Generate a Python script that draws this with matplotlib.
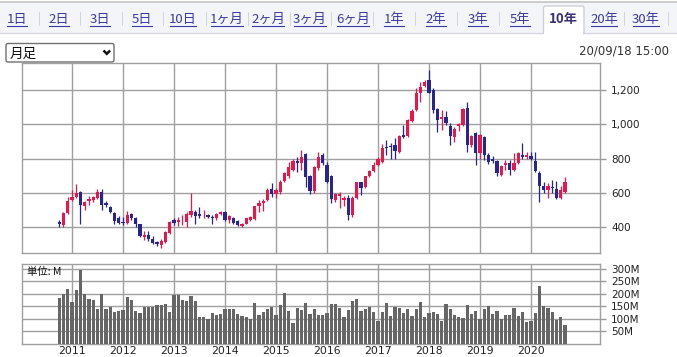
# -*- coding: utf-8 -*-
# monthly candle chart (10 years) with volume, yahoo-style page header

import numpy as np
import pandas as pd
import matplotlib
matplotlib.use('Agg')
import matplotlib.pyplot as plt
from matplotlib.patches import Rectangle, FancyBboxPatch

plt.rcParams['font.family'] = ['DejaVu Sans']
JP = ['Noto Sans CJK JP', 'DejaVu Sans']

# ---- data ----
months = pd.date_range('2010-10-01', periods=120, freq='MS')

opens = [430, 410, 480, 555, 575, 605, 525, 550, 555, 570,
         605, 540, 515, 480, 455, 430, 425, 475, 450, 415,
         340, 355, 330, 310, 295, 310, 365, 440, 430, 438,
         430, 470, 485, 475, 463, 470, 460, 455, 478, 490,
         440, 450, 435, 405, 420, 440, 445, 520, 540, 555,
         620, 590, 605, 670, 695, 730, 788, 775, 825, 700,
         610, 745, 820, 760, 695, 560, 582, 555, 570, 470,
         570, 660, 635, 695, 725, 760, 780, 870, 872, 880,
         840, 935, 930, 1020, 1085, 1185, 1225, 1260, 1200, 1090,
         1030, 1045, 990, 925, 990, 995, 1095, 880, 950, 835,
         925, 820, 795, 785, 705, 765, 775, 730, 775, 822,
         810, 815, 785, 715, 640, 615, 635, 620, 570, 605]
highs = [440, 485, 575, 615, 650, 610, 550, 580, 580, 620,
         620, 550, 525, 490, 465, 460, 495, 480, 460, 420,
         375, 375, 345, 320, 330, 375, 435, 455, 460, 470,
         490, 600, 500, 515, 500, 475, 470, 480, 495, 495,
         470, 460, 440, 425, 455, 465, 525, 555, 565, 625,
         655, 625, 675, 720, 780, 800, 810, 850, 830, 705,
         755, 840, 835, 780, 705, 600, 605, 580, 585, 580,
         665, 665, 700, 730, 780, 810, 885, 910, 890, 920,
         940, 995, 1030, 1090, 1210, 1245, 1260, 1320, 1210, 1095,
         1085, 1080, 1005, 985, 1010, 1095, 1130, 935, 955, 945,
         930, 835, 815, 790, 760, 790, 790, 830, 840, 890,
         840, 840, 840, 725, 665, 655, 675, 670, 640, 690]
lows = [400, 400, 475, 550, 570, 420, 500, 530, 545, 565,
        500, 515, 480, 420, 415, 410, 415, 440, 400, 340,
        325, 320, 300, 290, 275, 305, 360, 410, 405, 410,
        400, 460, 420, 455, 455, 450, 420, 440, 470, 435,
        425, 420, 405, 400, 415, 435, 440, 490, 495, 550,
        575, 570, 595, 660, 685, 725, 720, 735, 635, 595,
        600, 735, 765, 655, 540, 545, 510, 520, 440, 460,
        565, 585, 630, 690, 720, 755, 775, 820, 800, 800,
        835, 920, 925, 1015, 1080, 1130, 1215, 1180, 1065, 955,
        965, 995, 880, 895, 960, 990, 840, 870, 760, 800,
        790, 770, 775, 695, 700, 735, 705, 725, 770, 800,
        800, 790, 720, 545, 600, 570, 600, 565, 565, 600]
closes = [415, 480, 550, 575, 600, 530, 545, 565, 575, 605,
          530, 530, 485, 435, 425, 425, 470, 450, 418, 350,
          355, 330, 305, 300, 320, 370, 430, 425, 440, 442,
          475, 495, 465, 462, 466, 458, 455, 475, 488, 440,
          465, 425, 410, 420, 450, 460, 520, 540, 550, 615,
          590, 615, 665, 715, 750, 785, 775, 810, 690, 610,
          750, 810, 775, 665, 565, 590, 590, 570, 470, 570,
          660, 630, 695, 725, 760, 800, 860, 860, 868, 845,
          930, 925, 1025, 1080, 1180, 1215, 1245, 1185, 1085, 1025,
          1045, 1010, 930, 975, 1000, 1090, 880, 930, 835, 935,
          820, 780, 788, 715, 755, 775, 730, 775, 830, 808,
          820, 795, 725, 640, 618, 640, 625, 570, 615, 660]
volumes = [185, 200, 221, 167, 217, 298, 200, 181, 177, 140,
           200, 140, 148, 128, 131, 136, 187, 177, 131, 123,
           148, 148, 148, 155, 155, 159, 127, 195, 195, 177,
           172, 191, 172, 108, 106, 97, 123, 116, 119, 140,
           140, 140, 119, 111, 106, 97, 163, 115, 127, 140,
           148, 115, 155, 204, 131, 82, 144, 136, 163, 119,
           140, 115, 115, 123, 159, 159, 144, 106, 135, 171,
           179, 131, 139, 147, 127, 90, 127, 163, 111, 147,
           143, 123, 139, 111, 139, 167, 106, 123, 127, 119,
           90, 159, 139, 115, 106, 102, 155, 119, 131, 98,
           139, 151, 119, 131, 98, 115, 115, 143, 111, 127,
           86, 90, 123, 232, 151, 143, 127, 94, 106, 74]

price_ticks = [400, 600, 800, 1000, 1200]
vol_ticks = [50, 100, 150, 200, 250, 300]

tabs = ['1日', '2日', '3日', '5日', '10日', '1ヶ月', '2ヶ月', '3ヶ月',
        '6ヶ月', '1年', '2年', '3年', '5年', '10年', '20年', '30年']
active_tab = '10年'
stamp = '20/09/18 15:00'

# ---- figure ----
W, H = 677, 357
fig = plt.figure(figsize=(W / 100, H / 100), dpi=100)

# page chrome drawn in pixel coords
ui = fig.add_axes([0, 0, 1, 1], zorder=0)
ui.set_xlim(0, W)
ui.set_ylim(H, 0)
ui.axis('off')

ui.add_patch(Rectangle((0, 2), W, 31, facecolor='#f4f5f9', edgecolor='none'))
ui.plot([0, W], [1.5, 1.5], color='#c4c4c4', lw=1.2)
ui.plot([0, W], [33, 33], color='#d6d6de', lw=1)
ui.add_patch(FancyBboxPatch((543.5, 6), 40.5, 28, boxstyle='round,pad=0,rounding_size=2',
                            facecolor='white', edgecolor='#cfcfd8', lw=1, zorder=3))
ui.add_patch(Rectangle((544.2, 32), 39, 3, facecolor='white', edgecolor='none', zorder=4))

tab_x = [17, 59, 100, 142, 183, 227, 268, 310, 353, 394, 436, 478, 520, 563, 604, 646]
sep_x = [39, 80, 122, 163, 206, 248, 290, 331, 373, 415, 457, 499, 624, 668]
for sx in sep_x:
    ui.plot([sx, sx], [12, 25], color='#d4d4da', lw=0.7)

tab_texts = []
for name, tx in zip(tabs, tab_x):
    if name == active_tab:
        ui.text(tx, 19, name, ha='center', va='center', fontsize=9.5,
                family=JP, fontweight='bold', color='#3a2f78', zorder=5)
    else:
        t = ui.text(tx, 19, name, ha='center', va='center', fontsize=9.5,
                    family=JP, color='#3b3aa0', zorder=5)
        tab_texts.append(t)

# dropdown
ui.add_patch(FancyBboxPatch((6, 43.5), 108, 18.5, boxstyle='round,pad=0,rounding_size=2',
                            facecolor='white', edgecolor='#707070', lw=1))
ui.text(10, 53.5, '月足', ha='left', va='center', fontsize=9.8, family=JP, color='#111')
ui.plot([103.5, 106.8, 110.1], [50.5, 53.8, 50.5], color='#111', lw=1.8,
        solid_capstyle='butt', solid_joinstyle='miter')

ui.text(669, 51, stamp, ha='right', va='center', fontsize=8.5, color='#333')

# ---- price panel ----
x = np.arange(len(months))
o = np.array(opens, float)
h = np.array(highs, float)
l = np.array(lows, float)
c = np.array(closes, float)
up = c >= o
cols = np.where(up, '#e8174b', '#27268e')

xlim = (-8.76, 127.24)
year_pos = [i for i, m in enumerate(months) if m.month == 1]
year_lab = [str(months[i].year) for i in year_pos]

ax = fig.add_axes([22 / W, 1 - 253 / H, 578 / W, 190 / H], zorder=2)
ax.set_axisbelow(True)
ax.vlines(x, l, h, colors=cols, lw=0.9, zorder=2)
body = np.maximum(np.abs(c - o), 4)
ax.bar(x, body, bottom=np.minimum(o, c), width=0.72, color=cols, zorder=3)
ax.set_xlim(*xlim)
ax.set_ylim(248, 1358)
ax.set_xticks(year_pos)
ax.set_xticklabels([])
ax.set_yticks(price_ticks)
ax.set_yticklabels(['{:,}'.format(v) for v in price_ticks])
ax.yaxis.tick_right()
ax.tick_params(axis='y', length=4, width=1, color='#999', labelsize=7.5,
               labelcolor='#222', pad=4)
ax.tick_params(axis='x', length=0)
ax.grid(True, color='#a0a0a0', lw=1)
for s in ax.spines.values():
    s.set_color('#a0a0a0')
    s.set_linewidth(1)

# ---- volume panel ----
av = fig.add_axes([22 / W, 1 - 343.5 / H, 578 / W, 79.2 / H], zorder=2)
av.set_axisbelow(True)
av.bar(x, volumes, width=0.72, color='#666666', zorder=3)
av.set_xlim(*xlim)
av.set_ylim(0, 319)
av.set_xticks(year_pos)
av.set_xticklabels(year_lab)
av.set_yticks(vol_ticks)
av.set_yticklabels(['{}M'.format(v) for v in vol_ticks])
av.yaxis.tick_right()
av.tick_params(axis='y', length=4, width=1, color='#999', labelsize=7.5,
               labelcolor='#222', pad=4)
av.tick_params(axis='x', length=0, labelsize=7.8, labelcolor='#222', pad=2)
av.grid(True, color='#a0a0a0', lw=1)
for s in av.spines.values():
    s.set_color('#a0a0a0')
    s.set_linewidth(1)
av.text(0.008, 0.9, '単位: M', transform=av.transAxes, ha='left', va='center',
        fontsize=7.5, family=JP, color='#111', zorder=5)

# underline the link tabs
fig.canvas.draw()
r = fig.canvas.get_renderer()
inv = ui.transData.inverted()
for t in tab_texts:
    bb = t.get_window_extent(r)
    x0 = inv.transform((bb.x0, bb.y0))[0]
    x1 = inv.transform((bb.x1, bb.y0))[0]
    ui.plot([x0 + 0.5, x1 - 0.5], [26, 26], color='#3b3aa0', lw=0.8)

fig.savefig('out.png', dpi=100)
